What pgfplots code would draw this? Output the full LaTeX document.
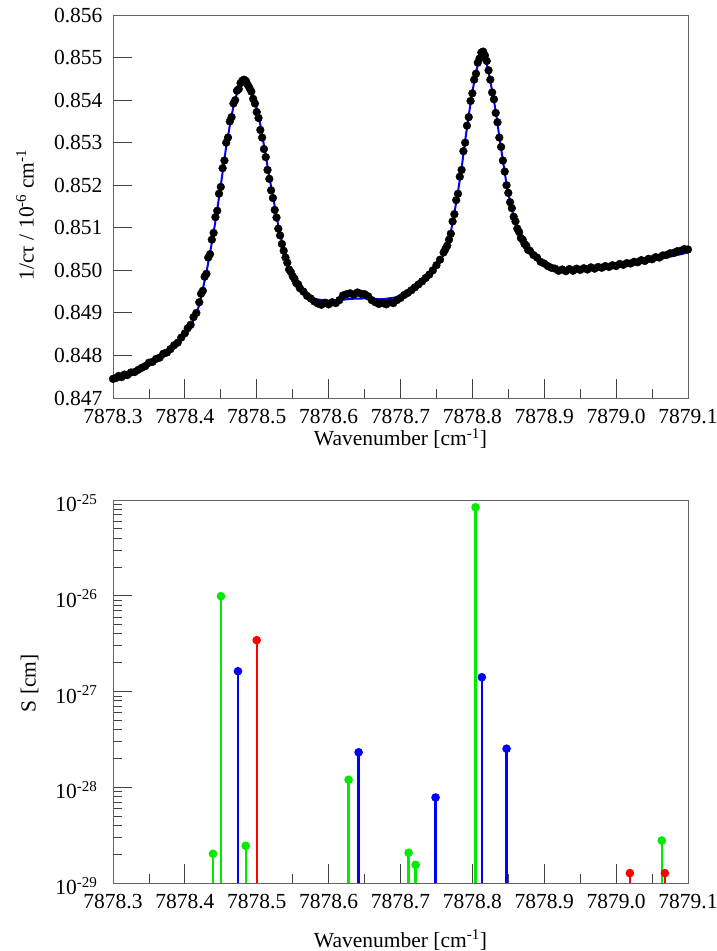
\documentclass[border=0pt]{standalone}
\usepackage{fontspec}
\setmainfont{Liberation Serif}
\usepackage{pgfplots}
\pgfplotsset{compat=1.18}
\makeatletter
\newdimen\wnshift
\def\wntrafo#1{\wnshift=#1pt\relax\advance\wnshift by -7878pt\relax\edef\pgfmathresult{\strip@pt\wnshift}}
\makeatother
\definecolor{mygreen}{RGB}{0,235,0}
\definecolor{myblue}{RGB}{0,0,255}
\definecolor{myred}{RGB}{255,0,0}
\definecolor{framegray}{RGB}{100,100,100}
\pgfplotsset{myaxis/.style={
  width=575bp, height=383bp, scale only axis,
  xmin=7878.3, xmax=7879.1,
  xtick={7878.3,7878.4,7878.5,7878.6,7878.7,7878.8,7878.9,7879.0,7879.1},
  xticklabels={7878.3,7878.4,7878.5,7878.6,7878.7,7878.8,7878.9,7879.0,7879.1},
  minor x tick num=1,
  tick align=inside, xtick pos=left, ytick pos=left,
  major tick length=19bp, minor tick length=9bp,
  axis line style={framegray, line width=0.8bp},
  every tick/.style={black!75, line width=0.8bp},
  tick label style={font=\fontsize{21.5bp}{25bp}\selectfont},
  label style={font=\fontsize{21.5bp}{25bp}\selectfont},
  xticklabel style={yshift=-8bp},
  clip=false,
}}
\begin{document}
\begin{tikzpicture}
\path[use as bounding box] (0bp,0bp) rectangle (717bp,-951bp);
% ---------------- top panel ----------------
\begin{axis}[myaxis, at={(113bp,-398bp)}, anchor=south west,
  x coord trafo/.code={\wntrafo{#1}},
  ymin=0.847, ymax=0.856,
  ytick={0.847,0.848,0.849,0.850,0.851,0.852,0.853,0.854,0.855,0.856},
  yticklabels={0.847,0.848,0.849,0.850,0.851,0.852,0.853,0.854,0.855,0.856},
  yticklabel style={xshift=-7bp},
  xlabel={Wavenumber [cm\textsuperscript{-1}]},
  xlabel style={at={(axis description cs:0.5,-0.106)}, anchor=center},
  ylabel={1/cτ / 10\textsuperscript{-6} cm\textsuperscript{-1}},
  ylabel style={at={(axis description cs:-0.153,0.478)}, anchor=center},
]
\addplot[only marks, mark=*, mark size=3.9bp, black] table {
x y
7878.300 0.84745
7878.304 0.84747
7878.308 0.84752
7878.312 0.84749
7878.316 0.84755
7878.320 0.84754
7878.325 0.84760
7878.330 0.84761
7878.335 0.84766
7878.340 0.84771
7878.345 0.84775
7878.350 0.84783
7878.355 0.84785
7878.360 0.84792
7878.365 0.84795
7878.370 0.84804
7878.375 0.84807
7878.380 0.84815
7878.385 0.84824
7878.390 0.84830
7878.395 0.84842
7878.400 0.84852
7878.404 0.84864
7878.408 0.84872
7878.412 0.84890
7878.416 0.84900
7878.420 0.84925
7878.4225 0.84945
7878.425 0.84952
7878.4275 0.84985
7878.430 0.84992
7878.4325 0.85030
7878.435 0.85038
7878.4375 0.85072
7878.440 0.85088
7878.4425 0.85125
7878.445 0.85140
7878.4475 0.85180
7878.450 0.85196
7878.4525 0.85240
7878.455 0.85258
7878.4575 0.85300
7878.460 0.85312
7878.4625 0.85350
7878.465 0.85360
7878.4675 0.85392
7878.470 0.85400
7878.4725 0.85422
7878.475 0.85426
7878.4775 0.85440
7878.480 0.85446
7878.4825 0.85448
7878.485 0.85445
7878.4875 0.85436
7878.490 0.85428
7878.4925 0.85420
7878.495 0.85403
7878.4975 0.85392
7878.500 0.85372
7878.5025 0.85358
7878.505 0.85330
7878.5075 0.85312
7878.510 0.85285
7878.5125 0.85266
7878.515 0.85236
7878.5175 0.85215
7878.520 0.85188
7878.5225 0.85170
7878.525 0.85142
7878.5275 0.85124
7878.530 0.85098
7878.5325 0.85082
7878.535 0.85062
7878.5375 0.85046
7878.540 0.85030
7878.5425 0.85018
7878.545 0.85002
7878.5475 0.84996
7878.550 0.84986
7878.5525 0.84980
7878.555 0.84970
7878.5575 0.84967
7878.560 0.84958
7878.565 0.84950
7878.570 0.84940
7878.575 0.84934
7878.580 0.84927
7878.585 0.84922
7878.590 0.84919
7878.595 0.84924
7878.600 0.84920
7878.605 0.84925
7878.610 0.84923
7878.615 0.84930
7878.620 0.84941
7878.625 0.84944
7878.630 0.84946
7878.635 0.84943
7878.640 0.84948
7878.645 0.84945
7878.650 0.84944
7878.655 0.84939
7878.660 0.84930
7878.665 0.84925
7878.670 0.84921
7878.675 0.84924
7878.680 0.84920
7878.685 0.84925
7878.690 0.84923
7878.695 0.84930
7878.700 0.84935
7878.705 0.84942
7878.710 0.84947
7878.715 0.84953
7878.720 0.84960
7878.725 0.84967
7878.730 0.84974
7878.735 0.84982
7878.740 0.84990
7878.745 0.85000
7878.750 0.85012
7878.755 0.85025
7878.760 0.85042
7878.7625 0.85050
7878.765 0.85058
7878.7675 0.85072
7878.770 0.85086
7878.7725 0.85115
7878.775 0.85132
7878.7775 0.85165
7878.780 0.85180
7878.7825 0.85220
7878.785 0.85236
7878.7875 0.85280
7878.790 0.85300
7878.7925 0.85340
7878.795 0.85360
7878.7975 0.85398
7878.800 0.85416
7878.8025 0.85448
7878.805 0.85462
7878.8075 0.85488
7878.810 0.85498
7878.8125 0.85512
7878.815 0.85514
7878.8175 0.85505
7878.820 0.85492
7878.8225 0.85470
7878.825 0.85448
7878.8275 0.85418
7878.830 0.85402
7878.8325 0.85370
7878.835 0.85348
7878.8375 0.85312
7878.840 0.85290
7878.8425 0.85258
7878.845 0.85232
7878.8475 0.85200
7878.850 0.85182
7878.8525 0.85160
7878.855 0.85146
7878.8575 0.85126
7878.860 0.85115
7878.8625 0.85098
7878.865 0.85090
7878.8675 0.85076
7878.870 0.85072
7878.8725 0.85062
7878.875 0.85058
7878.8775 0.85048
7878.880 0.85046
7878.885 0.85036
7878.890 0.85030
7878.895 0.85020
7878.900 0.85016
7878.905 0.85010
7878.910 0.85006
7878.915 0.85004
7878.920 0.84999
7878.925 0.85002
7878.930 0.84998
7878.935 0.85003
7878.940 0.84999
7878.945 0.85004
7878.950 0.85001
7878.955 0.85005
7878.960 0.85002
7878.965 0.85007
7878.970 0.85004
7878.975 0.85008
7878.980 0.85006
7878.985 0.85010
7878.990 0.85008
7878.995 0.85012
7879.000 0.85010
7879.005 0.85015
7879.010 0.85013
7879.015 0.85017
7879.020 0.85016
7879.025 0.85020
7879.030 0.85019
7879.035 0.85024
7879.040 0.85022
7879.045 0.85027
7879.050 0.85026
7879.055 0.85031
7879.060 0.85030
7879.065 0.85035
7879.070 0.85036
7879.075 0.85040
7879.080 0.85041
7879.085 0.85045
7879.090 0.85046
7879.095 0.85050
7879.100 0.85049
};
\addplot[myblue, line width=2bp, no marks] table {
x y
7878.300 0.84738
7878.320 0.84750
7878.340 0.84767
7878.360 0.84787
7878.375 0.84802
7878.390 0.84826
7878.400 0.84847
7878.410 0.84875
7878.420 0.84918
7878.430 0.84995
7878.437 0.85060
7878.443 0.85120
7878.450 0.85200
7878.457 0.85285
7878.463 0.85345
7878.469 0.85398
7878.475 0.85428
7878.480 0.85441
7878.484 0.85444
7878.488 0.85438
7878.493 0.85420
7878.498 0.85394
7878.503 0.85360
7878.508 0.85314
7878.513 0.85265
7878.518 0.85215
7878.524 0.85160
7878.530 0.85105
7878.537 0.85053
7878.545 0.85008
7878.553 0.84980
7878.560 0.84965
7878.570 0.84945
7878.580 0.84933
7878.595 0.84929
7878.610 0.84929
7878.630 0.84933
7878.650 0.84934
7878.675 0.84932
7878.700 0.84938
7878.710 0.84945
7878.722 0.84958
7878.735 0.84978
7878.745 0.84995
7878.755 0.85022
7878.765 0.85053
7878.770 0.85090
7878.775 0.85135
7878.780 0.85185
7878.785 0.85240
7878.790 0.85305
7878.795 0.85365
7878.800 0.85420
7878.805 0.85465
7878.810 0.85500
7878.814 0.85512
7878.818 0.85500
7878.822 0.85470
7878.826 0.85435
7878.830 0.85400
7878.8335 0.85362
7878.837 0.85320
7878.841 0.85275
7878.847 0.85208
7878.852 0.85165
7878.857 0.85130
7878.862 0.85102
7878.870 0.85070
7878.878 0.85050
7878.885 0.85035
7878.895 0.85020
7878.905 0.85011
7878.920 0.85005
7878.940 0.85002
7878.960 0.85003
7878.980 0.85006
7879.000 0.85010
7879.020 0.85014
7879.040 0.85020
7879.060 0.85027
7879.080 0.85034
7879.100 0.85042
};
\end{axis}
% ---------------- bottom panel ----------------
\begin{axis}[myaxis, ymode=log, at={(113bp,-883bp)}, anchor=south west,
  x coord trafo/.code={\wntrafo{#1}},
  ymin=1e-29, ymax=1e-25,
  log origin y=infty,
  ytick={1e-29,1e-28,1e-27,1e-26,1e-25},
  yticklabels={10\textsuperscript{-29},10\textsuperscript{-28},10\textsuperscript{-27},10\textsuperscript{-26},10\textsuperscript{-25}},
  yticklabel style={xshift=-12bp, yshift=-3bp},
  xlabel={Wavenumber [cm\textsuperscript{-1}]},
  xlabel style={at={(axis description cs:0.5,-0.149)}, anchor=center},
  ylabel={S [cm]},
  ylabel style={at={(axis description cs:-0.145,0.522)}, anchor=center},
]
\addplot[ycomb, mygreen, line width=2.3bp, mark=*, mark size=3.1bp] table {
x y
7878.4391 2.02e-29
7878.4502 9.9e-27
7878.4846 2.45e-29
7878.6278 1.2e-28
7878.7113 2.07e-29
7878.7210 1.55e-29
7878.8044 8.4e-26
7879.0636 2.78e-29
};
\addplot[ycomb, myblue, line width=2.3bp, mark=*, mark size=3.1bp] table {
x y
7878.4739 1.63e-27
7878.6417 2.32e-28
7878.7488 7.83e-29
7878.8132 1.41e-27
7878.8476 2.53e-28
};
\addplot[ycomb, myred, line width=2.3bp, mark=*, mark size=3.1bp] table {
x y
7878.4999 3.44e-27
7879.0191 1.27e-29
7879.0678 1.27e-29
};
\end{axis}
\end{tikzpicture}
\end{document}
